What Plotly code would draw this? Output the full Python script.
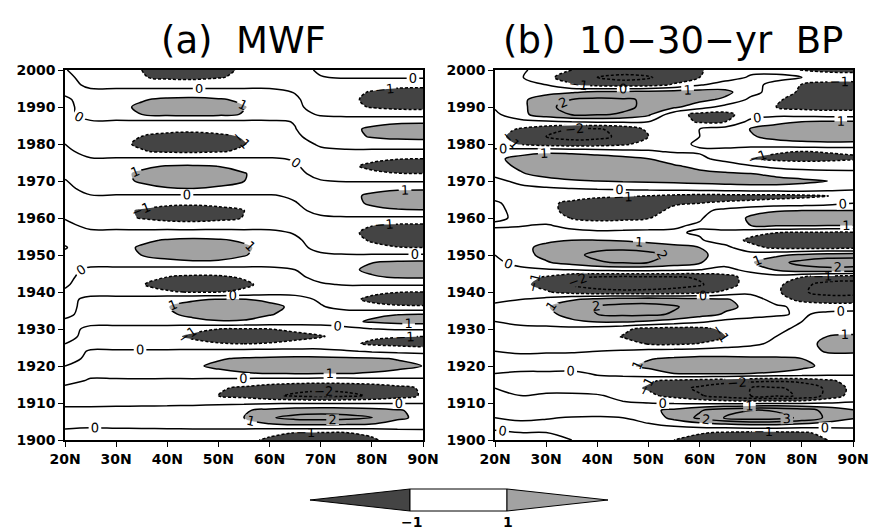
import plotly.graph_objects as go

lats = [20, 25, 30, 35, 40, 45, 50, 55, 60, 65, 70, 75, 80, 85, 90]
years = [2000, 1998, 1996, 1994, 1992, 1990, 1988, 1986, 1984, 1982, 1980, 1978, 1976, 1974,
         1972, 1970, 1968, 1966, 1964, 1962, 1960, 1958, 1956, 1954, 1952, 1950, 1948, 1946,
         1944, 1942, 1940, 1938, 1936, 1934, 1932, 1930, 1928, 1926, 1924, 1922, 1920, 1918,
         1916, 1914, 1912, 1910, 1908, 1906, 1904, 1902, 1900]

# (a) MWF  -- rows follow `years`, columns follow `lats`
mwf = [
    [0.05, -0.5, -0.8, -1.0, -1.35, -1.45, -1.2, -0.9, -0.6, -0.25, 0.1, 0.28, 0.41, 0.49, 0.5],
    [0.25, -0.4, -0.65, -0.95, -1.15, -1.2, -1.05, -0.85, -0.55, -0.25, -0.03, 0.06, 0.08, 0.1, 0.1],
    [0.3, -0.18, -0.28, -0.39, -0.48, -0.5, -0.45, -0.36, -0.23, -0.18, -0.27, -0.44, -0.66, -0.78, -0.8],
    [0.15, 0.18, 0.28, 0.39, 0.48, 0.5, 0.45, 0.36, 0.23, -0.03, -0.36, -0.72, -1.07, -1.26, -1.3],
    [-0.15, 0.42, 0.66, 0.94, 1.14, 1.2, 1.08, 0.86, 0.54, 0.1, -0.38, -0.8, -1.19, -1.41, -1.45],
    [-0.3, 0.5, 0.8, 1.13, 1.38, 1.45, 1.31, 1.04, 0.65, 0.16, -0.32, -0.72, -1.07, -1.26, -1.3],
    [-0.3, 0.42, 0.7, 1.0, 1.25, 1.3, 1.2, 0.95, 0.6, 0.2, -0.06, -0.22, -0.33, -0.39, -0.4],
    [-0.3, -0.1, -0.17, -0.23, -0.29, -0.3, -0.27, -0.22, -0.14, 0.03, 0.26, 0.5, 0.74, 0.87, 0.9],
    [-0.3, -0.28, -0.44, -0.62, -0.76, -0.8, -0.72, -0.58, -0.36, -0.02, 0.38, 0.77, 1.15, 1.36, 1.4],
    [-0.2, -0.46, -0.72, -1.01, -1.24, -1.3, -1.17, -0.94, -0.59, -0.13, 0.33, 0.72, 1.07, 1.26, 1.3],
    [0.0, -0.51, -0.8, -1.13, -1.38, -1.45, -1.31, -1.04, -0.65, -0.24, 0.08, 0.28, 0.41, 0.49, 0.5],
    [0.25, -0.42, -0.66, -0.94, -1.14, -1.2, -1.08, -0.86, -0.54, -0.26, -0.12, -0.11, -0.16, -0.19, -0.2],
    [0.3, 0.07, 0.11, 0.16, 0.19, 0.2, 0.18, 0.14, 0.09, -0.06, -0.29, -0.55, -0.82, -0.97, -1.0],
    [0.3, 0.39, 0.61, 0.86, 1.05, 1.1, 0.99, 0.79, 0.5, 0.08, -0.38, -0.8, -1.19, -1.41, -1.45],
    [0.2, 0.51, 0.8, 1.13, 1.38, 1.45, 1.31, 1.04, 0.65, 0.19, -0.23, -0.55, -0.82, -0.97, -1.0],
    [-0.05, 0.49, 0.77, 1.09, 1.33, 1.4, 1.26, 1.01, 0.63, 0.27, 0.04, -0.06, -0.08, -0.1, -0.1],
    [-0.25, 0.35, 0.55, 0.78, 0.95, 1.0, 0.9, 0.72, 0.45, 0.29, 0.32, 0.5, 0.74, 0.87, 0.9],
    [-0.3, -0.05, -0.08, -0.12, -0.14, -0.15, -0.14, -0.11, -0.07, 0.11, 0.42, 0.77, 1.15, 1.36, 1.4],
    [-0.3, -0.3, -0.47, -0.66, -0.81, -0.85, -0.77, -0.61, -0.38, -0.04, 0.36, 0.74, 1.11, 1.31, 1.35],
    [-0.25, -0.49, -0.77, -1.09, -1.33, -1.4, -1.26, -1.01, -0.63, -0.19, 0.22, 0.52, 0.78, 0.92, 0.95],
    [-0.05, -0.47, -0.74, -1.05, -1.28, -1.35, -1.22, -0.97, -0.61, -0.29, -0.13, -0.11, -0.16, -0.19, -0.2],
    [0.2, -0.21, -0.33, -0.47, -0.57, -0.6, -0.54, -0.43, -0.27, -0.24, -0.39, -0.66, -0.98, -1.16, -1.2],
    [0.25, 0.16, 0.25, 0.35, 0.43, 0.45, 0.41, 0.32, 0.2, -0.05, -0.41, -0.8, -1.19, -1.41, -1.45],
    [0.15, 0.37, 0.58, 0.86, 1.07, 1.15, 1.09, 0.9, 0.58, 0.12, -0.32, -0.72, -1.07, -1.26, -1.3],
    [-0.05, 0.46, 0.73, 1.09, 1.35, 1.45, 1.38, 1.13, 0.73, 0.22, -0.21, -0.55, -0.82, -0.97, -1.0],
    [0.15, 0.43, 0.68, 1.01, 1.26, 1.35, 1.28, 1.05, 0.68, 0.31, 0.11, 0.06, 0.08, 0.1, 0.1],
    [0.25, 0.25, 0.41, 0.59, 0.79, 0.9, 0.88, 0.72, 0.45, 0.35, 0.43, 0.66, 0.98, 1.16, 1.2],
    [0.25, -0.15, -0.25, -0.36, -0.48, -0.55, -0.54, -0.44, -0.28, 0.0, 0.39, 0.8, 1.19, 1.41, 1.45],
    [0.2, -0.32, -0.52, -0.76, -1.01, -1.15, -1.13, -0.92, -0.58, -0.18, 0.24, 0.6, 0.9, 1.07, 1.1],
    [0.1, -0.41, -0.65, -0.96, -1.28, -1.45, -1.42, -1.16, -0.73, -0.35, -0.09, 0.06, 0.08, 0.1, 0.1],
    [-0.1, -0.29, -0.47, -0.69, -0.92, -1.05, -1.03, -0.84, -0.53, -0.36, -0.38, -0.55, -0.82, -0.97, -1.0],
    [-0.25, 0.21, 0.37, 0.53, 0.74, 0.92, 1.05, 1.03, 0.84, 0.43, -0.17, -0.75, -1.19, -1.41, -1.45],
    [-0.25, 0.28, 0.49, 0.7, 0.98, 1.23, 1.4, 1.37, 1.2, 0.85, 0.1, -0.43, -0.74, -0.87, -0.9],
    [-0.15, 0.26, 0.46, 0.65, 0.91, 1.14, 1.3, 1.27, 1.04, 0.82, 0.63, 0.6, 0.82, 0.97, 1.0],
    [0.1, 0.19, 0.33, 0.48, 0.67, 0.84, 0.95, 0.93, 0.76, 0.66, 0.64, 0.79, 1.11, 1.31, 1.35],
    [0.25, -0.16, -0.29, -0.44, -0.63, -0.84, -1.0, -1.05, -1.0, -0.86, -0.71, -0.37, -0.03, 0.09, 0.1],
    [0.2, -0.21, -0.39, -0.59, -0.84, -1.12, -1.33, -1.4, -1.33, -1.2, -1.05, -0.75, -0.85, -0.95, -1.0],
    [0.0, -0.15, -0.28, -0.42, -0.6, -0.8, -0.95, -1.0, -0.95, -0.82, -0.68, -0.8, -1.15, -1.3, -1.45],
    [-0.2, 0.04, 0.07, 0.1, 0.16, 0.22, 0.27, 0.32, 0.34, 0.35, 0.3, 0.1, -0.11, -0.26, -0.36],
    [-0.2, 0.12, 0.24, 0.36, 0.54, 0.74, 0.94, 1.08, 1.16, 1.2, 1.2, 1.16, 1.08, 0.96, 0.82],
    [0.0, 0.15, 0.29, 0.44, 0.65, 0.9, 1.13, 1.31, 1.41, 1.45, 1.45, 1.41, 1.31, 1.16, 0.99],
    [0.2, 0.1, 0.21, 0.32, 0.47, 0.65, 0.82, 0.95, 1.02, 1.05, 1.05, 1.02, 0.95, 0.84, 0.71],
    [0.15, -0.05, -0.09, -0.13, -0.2, -0.27, -0.36, -0.45, -0.53, -0.58, -0.6, -0.58, -0.53, -0.45, -0.36],
    [-0.1, -0.15, -0.25, -0.38, -0.55, -0.72, -0.9, -1.15, -1.45, -1.7, -1.8, -1.75, -1.55, -1.25, -0.9],
    [-0.2, -0.2, -0.3, -0.45, -0.65, -0.85, -1.0, -1.3, -1.8, -2.15, -2.3, -2.2, -1.9, -1.4, -0.9],
    [-0.1, -0.1, -0.12, -0.15, -0.18, -0.2, -0.2, -0.2, -0.15, -0.1, -0.1, -0.1, -0.1, -0.1, -0.05],
    [0.1, 0.1, 0.15, 0.22, 0.3, 0.42, 0.6, 0.9, 1.25, 1.5, 1.6, 1.55, 1.4, 1.1, 0.7],
    [0.2, 0.15, 0.2, 0.28, 0.38, 0.55, 0.75, 1.0, 1.9, 2.3, 2.4, 2.3, 2.05, 1.15, 0.8],
    [0.1, 0.05, 0.08, 0.12, 0.18, 0.25, 0.4, 0.6, 0.8, 0.9, 0.9, 0.88, 0.8, 0.6, 0.35],
    [-0.1, -0.1, -0.12, -0.15, -0.2, -0.25, -0.4, -0.6, -0.85, -1.0, -1.0, -1.0, -0.85, -0.5, -0.25],
    [-0.2, -0.15, -0.2, -0.25, -0.3, -0.4, -0.6, -0.85, -1.1, -1.4, -1.45, -1.4, -1.1, -0.7, -0.4],
]

# (b) 10-30-yr band-pass
bp = [
    [0.3, 0.2, -0.5, -1.0, -1.3, -1.5, -1.5, -1.3, -1.1, -0.5, -0.2, -0.4, -1.05, -1.2, -1.2],
    [0.4, 0.1, -0.8, -1.4, -2.0, -2.3, -2.1, -1.5, -1.0, -0.4, 0.1, 0.3, 0.0, -0.5, -0.6],
    [0.5, 0.4, 0.0, -0.9, -1.35, -1.5, -1.4, -0.9, -0.1, 0.4, 0.3, -0.3, -1.05, -1.3, -1.3],
    [0.4, 0.5, 0.7, 0.9, 1.2, 1.3, 1.35, 1.5, 1.5, 1.3, 0.3, -0.4, -1.2, -1.45, -1.45],
    [0.3, 0.8, 1.5, 2.0, 2.2, 2.1, 1.9, 1.6, 1.3, 0.8, -0.2, -0.9, -1.3, -1.5, -1.5],
    [0.1, 0.7, 1.8, 2.3, 2.4, 2.2, 1.8, 1.2, 0.4, -0.3, -0.6, -1.0, -1.3, -1.4, -1.4],
    [-0.2, 0.7, 1.6, 2.05, 2.1, 1.9, 1.2, -0.6, -1.3, -1.3, -0.5, -0.3, -0.4, -0.5, -0.5],
    [-0.1, -0.3, -0.2, 0.0, 0.1, 0.1, 0.0, -0.6, -1.1, -1.0, 0.3, 0.8, 1.0, 1.1, 1.1],
    [-0.6, -1.1, -1.6, -2.05, -2.1, -1.7, -0.8, -0.3, 0.0, 0.4, 1.05, 1.35, 1.5, 1.55, 1.5],
    [-0.7, -1.4, -2.0, -2.3, -2.25, -1.8, -1.0, -0.4, 0.0, 0.3, 0.9, 1.3, 1.45, 1.5, 1.45],
    [-0.5, -1.1, -1.5, -1.6, -1.5, -1.2, -0.6, -0.2, 0.1, 0.25, 0.4, 0.6, 0.75, 0.8, 0.8],
    [0.3, 0.6, 0.8, 0.7, 0.5, 0.3, 0.1, -0.1, -0.1, -0.2, -0.6, -0.9, -1.0, -0.95, -0.9],
    [0.8, 1.3, 1.6, 1.6, 1.5, 1.3, 1.0, 0.6, 0.2, -0.3, -1.0, -1.2, -1.25, -1.2, -1.1],
    [0.6, 1.2, 1.6, 1.65, 1.6, 1.5, 1.3, 1.1, 0.8, 0.5, 0.1, -0.3, -0.5, -0.5, -0.4],
    [0.2, 0.9, 1.4, 1.55, 1.6, 1.6, 1.5, 1.35, 1.2, 1.1, 1.0, 0.8, 0.6, 0.4, 0.3],
    [-0.2, 0.2, 0.6, 0.9, 1.0, 1.1, 1.15, 1.2, 1.25, 1.3, 1.3, 1.25, 1.15, 1.0, 0.7],
    [-0.3, -0.2, -0.1, 0.0, 0.1, 0.2, 0.3, 0.4, 0.5, 0.6, 0.7, 0.75, 0.7, 0.5, 0.2],
    [-0.2, -0.2, -0.3, -0.6, -0.8, -0.9, -1.0, -1.2, -1.3, -1.3, -1.3, -1.3, -1.2, -1.05, -0.7],
    [0.1, -0.3, -0.8, -1.2, -1.5, -1.5, -1.4, -1.1, -1.0, -0.9, -0.8, -0.6, -0.5, -0.3, 0.0],
    [0.15, -0.2, -0.7, -1.3, -1.6, -1.6, -1.3, -0.8, -0.3, 0.3, 0.8, 0.95, 1.0, 1.0, 1.0],
    [0.1, -0.1, -0.5, -1.05, -1.3, -1.25, -1.05, -0.6, -0.1, 0.6, 1.1, 1.35, 1.45, 1.5, 1.45],
    [-0.1, -0.05, 0.1, -0.3, -0.5, -0.4, -0.3, -0.1, 0.1, 0.5, 1.0, 1.1, 1.1, 1.05, 1.0],
    [0.2, 0.3, 0.4, 0.3, 0.2, 0.2, 0.2, 0.1, -0.1, -0.3, -0.7, -1.0, -1.15, -1.2, -1.2],
    [0.3, 0.5, 0.8, 1.0, 1.0, 0.9, 0.7, 0.5, 0.1, -0.5, -1.2, -1.45, -1.5, -1.5, -1.5],
    [0.2, 0.7, 1.3, 1.6, 1.8, 1.8, 1.6, 1.3, 1.0, 0.3, -0.7, -1.2, -1.3, -1.3, -1.3],
    [0.0, 0.6, 1.3, 1.8, 2.2, 2.4, 2.3, 1.8, 1.2, 0.6, 0.5, 0.8, 1.2, 1.5, 1.6],
    [-0.2, 0.3, 0.9, 1.4, 1.9, 2.1, 2.0, 1.6, 1.1, 0.4, 0.9, 1.7, 2.3, 2.6, 2.6],
    [-0.2, -0.2, -0.1, 0.0, 0.2, 0.3, 0.3, 0.2, 0.0, -0.3, 0.3, 1.1, 1.6, 1.7, 1.6],
    [-0.3, -0.6, -1.1, -1.8, -2.1, -2.2, -2.15, -2.1, -1.9, -1.4, -0.6, -0.5, -1.0, -1.5, -1.6],
    [-0.4, -0.8, -1.3, -2.1, -2.4, -2.5, -2.4, -2.3, -2.1, -1.5, -0.5, -0.7, -1.8, -2.3, -2.4],
    [-0.3, -0.5, -0.9, -1.4, -1.7, -1.8, -1.8, -1.7, -1.4, -0.8, -0.3, -0.8, -1.9, -2.3, -2.3],
    [-0.1, 0.0, 0.3, 0.9, 1.3, 1.5, 1.6, 1.5, 1.3, 1.1, 0.6, -0.5, -1.3, -1.6, -1.6],
    [0.1, 0.4, 0.9, 1.6, 2.1, 2.3, 2.3, 2.1, 1.6, 1.2, 0.8, 0.2, -0.3, -0.4, -0.4],
    [0.1, 0.3, 0.7, 1.4, 2.0, 2.2, 2.2, 1.9, 1.4, 0.9, 0.5, 0.1, -0.1, 0.2, 0.3],
    [0.0, 0.1, 0.3, 0.8, 1.1, 1.1, 0.9, 0.6, 0.2, -0.3, -0.5, -0.3, 0.0, 0.3, 0.4],
    [-0.1, -0.1, -0.2, -0.3, -0.5, -0.8, -1.3, -1.4, -1.3, -0.8, -0.4, -0.1, 0.1, 0.3, 0.4],
    [-0.1, -0.2, -0.3, -0.4, -0.6, -1.05, -1.5, -1.6, -1.5, -1.0, -0.4, 0.0, 0.5, 1.0, 1.2],
    [0.0, -0.2, -0.2, -0.3, -0.4, -0.7, -1.05, -1.15, -0.95, -0.5, -0.2, 0.2, 0.7, 1.2, 1.4],
    [0.0, -0.1, -0.1, -0.1, 0.0, 0.1, 0.3, 0.4, 0.5, 0.5, 0.5, 0.6, 0.8, 1.05, 1.15],
    [0.1, 0.2, 0.3, 0.4, 0.5, 0.7, 0.95, 1.1, 1.2, 1.2, 1.15, 1.1, 1.0, 0.8, 0.5],
    [0.1, 0.3, 0.4, 0.45, 0.6, 0.85, 1.15, 1.4, 1.5, 1.5, 1.5, 1.4, 1.2, 0.8, 0.4],
    [0.0, -0.1, -0.15, -0.2, 0.1, 0.3, 0.7, 1.0, 1.1, 1.1, 1.0, 0.9, 0.7, 0.4, 0.2],
    [-0.1, -0.2, -0.3, -0.3, -0.3, -0.5, -0.9, -1.2, -1.4, -1.6, -1.8, -1.9, -1.7, -1.2, -0.6],
    [0.0, -0.1, -0.2, -0.4, -0.5, -0.7, -1.1, -1.6, -2.2, -2.7, -3.0, -3.1, -2.8, -1.8, -0.7],
    [0.1, 0.0, 0.1, 0.2, 0.1, -0.3, -0.8, -1.3, -1.9, -2.5, -3.0, -3.2, -2.9, -1.7, -0.6],
    [0.0, 0.1, 0.2, 0.25, 0.2, 0.1, 0.0, -0.1, -0.2, -0.3, -0.3, -0.2, -0.2, 0.0, 0.1],
    [0.1, 0.2, 0.3, 0.4, 0.5, 0.6, 0.8, 1.2, 1.9, 2.6, 3.0, 2.9, 2.5, 1.7, 1.1],
    [0.0, 0.1, 0.05, -0.05, -0.1, 0.0, 0.3, 1.3, 2.2, 3.1, 3.5, 3.4, 2.8, 1.8, 1.1],
    [-0.1, -0.15, -0.2, -0.2, -0.2, -0.2, -0.1, 0.1, 0.4, 0.6, 0.8, 0.8, 0.6, 0.4, 0.3],
    [0.05, 0.0, 0.0, 0.0, -0.1, -0.2, -0.3, -0.6, -0.9, -1.1, -1.2, -1.2, -1.1, -0.8, -0.5],
    [0.1, 0.1, 0.1, 0.0, -0.1, -0.3, -0.6, -1.0, -1.4, -1.6, -1.7, -1.6, -1.4, -1.0, -0.6],
]

titles = ["(a)  MWF", "(b)  10\u221230\u2212yr  BP"]
lat_ticks = [20, 30, 40, 50, 60, 70, 80, 90]
lat_labels = ["20N", "30N", "40N", "50N", "60N", "70N", "80N", "90N"]
year_ticks = [1900, 1910, 1920, 1930, 1940, 1950, 1960, 1970, 1980, 1990, 2000]
shade_levels = [-1, 1]
bar_labels = ["\u22121", "1"]

DARK = "#444444"
LIGHT = "#a2a2a2"
W, H = 871, 531

# three discrete bands: < -1 dark, -1..1 white, > 1 light
band_scale = [[0.0, DARK], [0.3333, DARK], [0.3334, "white"], [0.6666, "white"],
              [0.6667, LIGHT], [1.0, LIGHT]]

fig = go.Figure()
yrs = years[::-1]
for i, field in enumerate([mwf, bp]):
    z = field[::-1]
    xa = "x" if i == 0 else "x2"
    ya = "y" if i == 0 else "y2"
    common = dict(x=lats, y=yrs, z=z, xaxis=xa, yaxis=ya, showscale=False,
                  hoverinfo="skip")
    fig.add_trace(go.Contour(**common, autocontour=False,
                             contours=dict(start=shade_levels[0], end=shade_levels[1],
                                           size=shade_levels[1] - shade_levels[0], coloring="fill"),
                             colorscale=band_scale, zauto=False, zmin=-3, zmax=3,
                             line=dict(width=0, smoothing=1.0)))
    fig.add_trace(go.Contour(**common, autocontour=False,
                             contours=dict(start=0, end=3, size=1, coloring="none",
                                           showlabels=True, labelformat=".0f",
                                           labelfont=dict(size=13, color="black", family="DejaVu Sans")),
                             line=dict(color="black", width=1.5, smoothing=1.0)))
    fig.add_trace(go.Contour(**common, autocontour=False,
                             contours=dict(start=-3, end=-1, size=1, coloring="none",
                                           showlabels=True, labelformat=".0f",
                                           labelfont=dict(size=13, color="black", family="DejaVu Sans")),
                             line=dict(color="black", width=1.5, smoothing=1.0, dash="3px,2px")))

axis_common = dict(showline=True, mirror=True, linecolor="black", linewidth=1.6,
                   ticks="outside", ticklen=5, tickwidth=1.2, tickcolor="black",
                   showgrid=True, gridcolor="#c8c8c8", griddash="dot", gridwidth=1,
                   zeroline=False, automargin=False, layer="above traces",
                   tickfont=dict(family="DejaVu Sans", size=14, color="black", weight="bold"))

y0d, y1d = 1 - 440 / H, 1 - 70 / H
fig.update_layout(
    width=W, height=H, margin=dict(l=0, r=0, t=0, b=0),
    paper_bgcolor="white", plot_bgcolor="white", showlegend=False,
    xaxis=dict(domain=[65 / W, 423 / W], range=[20, 90], tickvals=lat_ticks, ticktext=lat_labels,
               anchor="y", **axis_common),
    yaxis=dict(domain=[y0d, y1d], range=[1900, 2000], tickvals=year_ticks, anchor="x", **axis_common),
    xaxis2=dict(domain=[495 / W, 853 / W], range=[20, 90], tickvals=lat_ticks, ticktext=lat_labels,
                anchor="y2", **axis_common),
    yaxis2=dict(domain=[y0d, y1d], range=[1900, 2000], tickvals=year_ticks, anchor="x2", **axis_common),
)

for t, xc in zip(titles, [243 / W, 673 / W]):
    fig.add_annotation(text=t, x=xc, y=1 - 40 / H, xref="paper", yref="paper", showarrow=False,
                       font=dict(family="DejaVu Sans", size=37, color="black"),
                       xanchor="center", yanchor="middle")

# colour bar legend (drawn as shapes)
def px(x, y):
    return f"{x / W:.5f},{1 - y / H:.5f}"

fig.add_shape(type="path", xref="paper", yref="paper",
              path=f"M {px(310, 500)} L {px(410, 489)} L {px(410, 511)} Z",
              fillcolor=DARK, line=dict(color="black", width=1))
fig.add_shape(type="rect", xref="paper", yref="paper", x0=410 / W, x1=507 / W,
              y0=1 - 511 / H, y1=1 - 489 / H, fillcolor="white", line=dict(color="black", width=1))
fig.add_shape(type="path", xref="paper", yref="paper",
              path=f"M {px(507, 489)} L {px(608, 500)} L {px(507, 511)} Z",
              fillcolor=LIGHT, line=dict(color="black", width=1))
for lab, xp in zip(bar_labels, [411, 508]):
    fig.add_annotation(text=lab, x=xp / W, y=1 - 522 / H, xref="paper", yref="paper",
                       showarrow=False, xanchor="center", yanchor="middle",
                       font=dict(family="DejaVu Sans", size=14, color="black", weight="bold"))

fig.write_html("out.html")
